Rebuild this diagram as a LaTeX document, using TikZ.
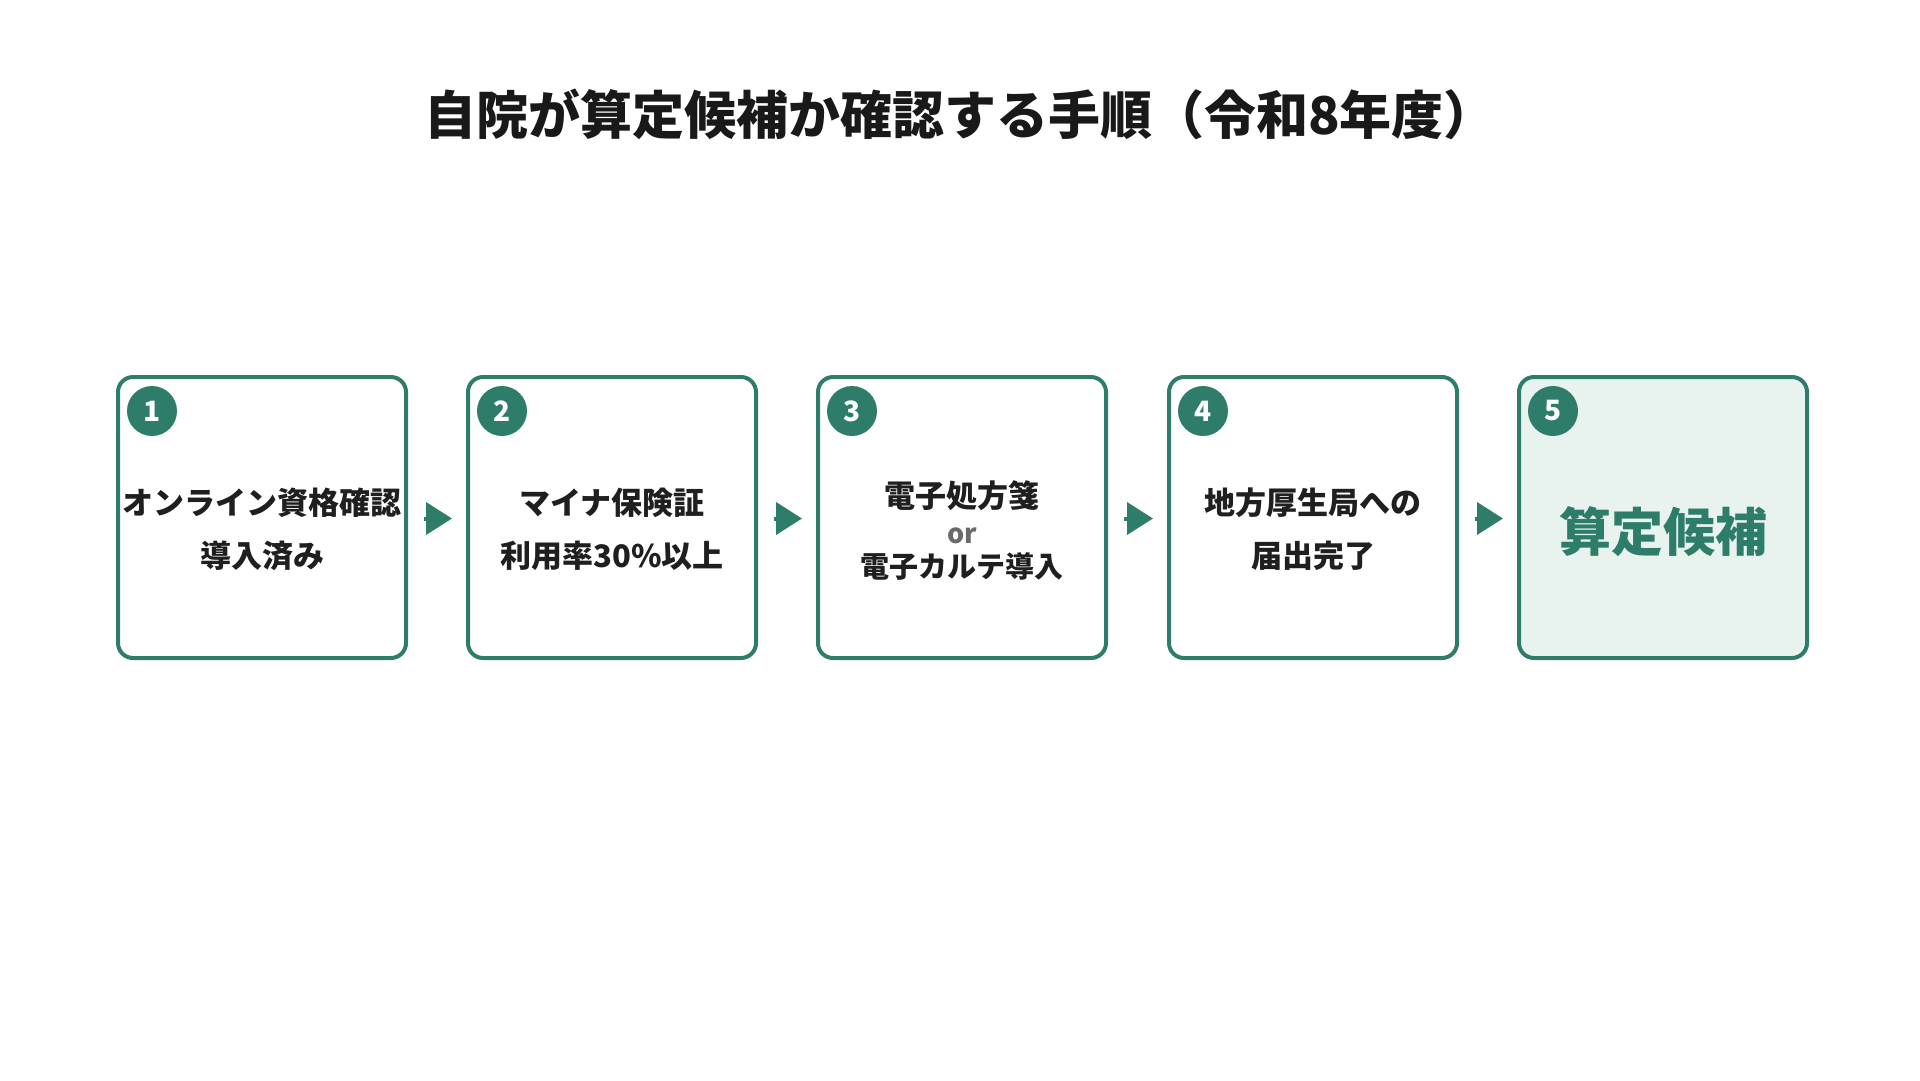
\documentclass[tikz,border=0pt]{standalone}
\usepackage{fontspec}
\newfontfamily\jp{Noto Sans CJK JP}
\usetikzlibrary{arrows.meta}
\definecolor{stepgreen}{HTML}{2E7D6B}
\definecolor{stepfill}{HTML}{E8F3EF}
\definecolor{orgray}{HTML}{6A6A6A}
\begin{document}
\begin{tikzpicture}[x=1pt,y=-1pt,
  stepbox/.style={draw=stepgreen,line width=4pt,rounded corners=15pt,fill=white,
    minimum width=288pt,minimum height=281pt,inner sep=0pt},
  numdot/.style={circle,fill=stepgreen,minimum size=50pt,inner sep=0pt,
    text=white,font=\jp\bfseries\fontsize{28}{28}\selectfont},
  label text/.style={align=center,text=black!88,font=\jp\bfseries\fontsize{31}{53}\selectfont},
  flow/.style={stepgreen,line width=4pt,-{Triangle[length=26pt,width=32pt]}}]
  \useasboundingbox (0,0) rectangle (1920,1080);
  \node[font=\jp\bfseries\fontsize{52}{52}\selectfont,text=black!90] (title) at (960,114)
    {自院が算定候補か確認する手順（令和8年度）};
  \foreach \i/\x/\f in {1/116/white,2/466/white,3/816/white,4/1167/white,5/1517/stepfill}{
    \node[stepbox,fill=\f,anchor=north west] (b\i) at (\x,375) {};
    \node[numdot] (n\i) at ([xshift=36pt,yshift=-36pt]b\i.north west) {\i};
  }
  \node[label text] (t1) at ([yshift=-12pt]b1.center) {オンライン資格確認\\導入済み};
  \node[label text] (t2) at ([yshift=-12pt]b2.center) {マイナ保険証\\利用率30\%以上};
  \node[label text,font=\jp\bfseries\fontsize{31}{31}\selectfont] (t3a) at ([yshift=22pt]b3.center) {電子処方箋};
  \node[font=\jp\bfseries\fontsize{27}{27}\selectfont,text=orgray] (t3b) at ([yshift=-18pt]b3.center) {or};
  \node[label text,font=\jp\bfseries\fontsize{29}{29}\selectfont] (t3c) at ([yshift=-49pt]b3.center) {電子カルテ導入};
  \node[label text] (t4) at ([yshift=-12pt]b4.center) {地方厚生局への\\届出完了};
  \node[font=\jp\bfseries\fontsize{52}{52}\selectfont,text=stepgreen] (t5) at ([yshift=-14pt]b5.center) {算定候補};
  \foreach \a/\b in {1/2,2/3,3/4,4/5}{
    \draw[flow] ([xshift=16pt,yshift=-1pt]b\a.east) -- ([xshift=-14pt,yshift=-1pt]b\b.west);
  }
\end{tikzpicture}
\end{document}
